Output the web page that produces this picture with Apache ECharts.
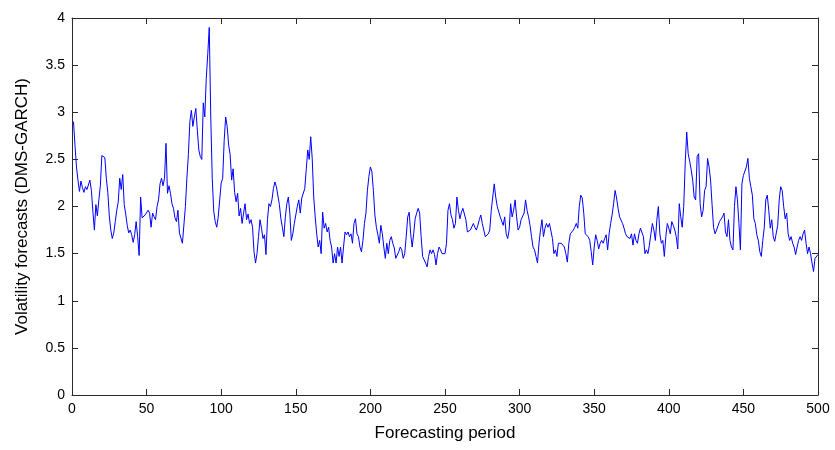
<!DOCTYPE html>
<html>
<head>
<meta charset="utf-8">
<script src="https://cdn.jsdelivr.net/npm/echarts@6/dist/echarts.min.js"></script>
<style>
  html, body { margin: 0; padding: 0; background: #ffffff; }
  #chart { width: 835px; height: 450px; }
</style>
</head>
<body>
<div id="chart"></div>
<script>
// Volatility forecasts from the DMS-GARCH model, one value per forecasting period (1..500)
const volatility = [
  2.90, 2.65, 2.42, 2.28, 2.16, 2.27, 2.20, 2.15, 2.21, 2.18,
  2.20, 2.28, 2.17, 1.95, 1.75, 2.02, 1.90, 2.07, 2.22, 2.54,
  2.54, 2.52, 2.30, 2.15, 1.90, 1.75, 1.66, 1.72, 1.84, 1.96,
  2.05, 2.30, 2.18, 2.34, 2.02, 1.92, 1.80, 1.72, 1.75, 1.70,
  1.62, 1.70, 1.84, 1.68, 1.48, 2.10, 1.88, 1.89, 1.91, 1.93,
  1.96, 1.93, 1.78, 1.93, 1.89, 1.86, 2.00, 2.07, 2.24, 2.30,
  2.22, 2.30, 2.67, 2.14, 2.22, 2.14, 2.03, 1.98, 1.88, 1.84,
  1.96, 1.72, 1.70, 1.61, 1.62, 2.00, 2.30, 2.55, 2.90, 3.02,
  2.85, 2.95, 3.04, 2.81, 2.60, 2.53, 2.50, 3.10, 2.95, 3.36,
  3.62, 3.90, 2.95, 2.30, 1.95, 1.84, 1.78, 1.89, 2.07, 2.25,
  2.30, 2.70, 2.95, 2.85, 2.65, 2.55, 2.28, 2.40, 2.15, 2.05,
  2.14, 1.90, 1.98, 1.82, 1.93, 2.03, 1.86, 1.92, 1.82, 1.86,
  1.78, 1.52, 1.40, 1.50, 1.68, 1.86, 1.77, 1.66, 1.70, 1.49,
  1.86, 2.03, 2.00, 2.07, 2.19, 2.26, 2.21, 2.19, 2.02, 1.87,
  1.78, 1.68, 1.89, 2.03, 2.10, 1.93, 1.64, 1.71, 1.82, 1.91,
  2.00, 2.07, 1.93, 2.09, 2.10, 2.19, 2.39, 2.60, 2.50, 2.74,
  2.51, 2.10, 1.89, 1.71, 1.57, 1.64, 1.50, 1.94, 1.77, 1.82,
  1.73, 1.78, 1.64, 1.57, 1.40, 1.50, 1.40, 1.57, 1.47, 1.57,
  1.40, 1.57, 1.73, 1.70, 1.73, 1.68, 1.71, 1.61, 1.82, 1.87,
  1.71, 1.68, 1.57, 1.52, 1.64, 1.82, 1.93, 2.17, 2.32, 2.42,
  2.37, 2.17, 1.91, 1.78, 1.70, 1.61, 1.80, 1.71, 1.57, 1.45,
  1.61, 1.50, 1.64, 1.68, 1.61, 1.56, 1.45, 1.47, 1.52, 1.57,
  1.54, 1.45, 1.50, 1.68, 1.89, 1.94, 1.71, 1.57, 1.71, 1.87,
  1.93, 1.98, 1.93, 1.68, 1.47, 1.47, 1.40, 1.36, 1.47, 1.54,
  1.50, 1.54, 1.49, 1.38, 1.50, 1.57, 1.54, 1.50, 1.52, 1.50,
  1.61, 1.96, 2.03, 1.91, 1.86, 1.77, 1.82, 2.10, 1.96, 1.87,
  1.94, 1.98, 2.00, 1.86, 1.73, 1.71, 1.75, 1.73, 1.82, 1.78,
  1.75, 1.80, 1.86, 1.91, 1.82, 1.75, 1.68, 1.68, 1.71, 1.75,
  1.96, 2.10, 2.24, 2.10, 2.00, 2.00, 1.89, 1.87, 1.80, 1.89,
  1.71, 1.66, 1.75, 2.03, 1.89, 1.96, 2.07, 1.89, 1.75, 1.78,
  1.86, 1.86, 1.93, 2.07, 1.96, 1.89, 1.80, 1.68, 1.57, 1.54,
  1.47, 1.40, 1.61, 1.75, 1.86, 1.68, 1.77, 1.82, 1.78, 1.82,
  1.80, 1.66, 1.50, 1.54, 1.47, 1.61, 1.63, 1.61, 1.59, 1.57,
  1.50, 1.41, 1.61, 1.71, 1.73, 1.75, 1.78, 1.82, 1.77, 2.00,
  2.12, 2.09, 1.93, 1.71, 1.70, 1.68, 1.64, 1.52, 1.38, 1.57,
  1.70, 1.64, 1.55, 1.61, 1.64, 1.61, 1.66, 1.70, 1.54, 1.71,
  1.82, 1.91, 2.03, 2.17, 2.09, 1.98, 1.89, 1.91, 1.82, 1.77,
  1.71, 1.68, 1.70, 1.66, 1.71, 1.59, 1.71, 1.64, 1.61, 1.71,
  1.77, 1.78, 1.68, 1.50, 1.54, 1.50, 1.59, 1.71, 1.82, 1.75,
  1.64, 1.86, 2.00, 1.71, 1.61, 1.64, 1.47, 1.68, 1.82, 1.77,
  1.71, 1.84, 1.80, 1.75, 1.68, 1.55, 2.03, 1.89, 1.78, 2.00,
  2.46, 2.79, 2.56, 2.48, 2.39, 2.28, 2.10, 2.07, 2.53, 2.56,
  2.03, 1.89, 1.96, 2.17, 2.21, 2.51, 2.42, 2.28, 2.02, 1.78,
  1.71, 1.75, 1.77, 1.84, 1.82, 1.89, 1.93, 1.73, 1.68, 1.86,
  1.64, 1.57, 1.54, 2.00, 2.21, 2.07, 1.82, 1.54, 2.24, 2.33,
  2.33, 2.42, 2.51, 2.30, 2.21, 2.12, 1.87, 1.82, 1.70, 1.64,
  1.52, 1.47, 1.64, 1.78, 2.07, 2.12, 1.96, 1.77, 1.86, 1.68,
  1.63, 1.61, 1.80, 2.07, 2.21, 2.17, 2.00, 1.87, 1.93, 1.71,
  1.64, 1.68, 1.61, 1.57, 1.49, 1.57, 1.64, 1.68, 1.64, 1.71,
  1.75, 1.61, 1.50, 1.57, 1.50, 1.40, 1.31, 1.45, 1.43, 1.49
];
const firstPeriod = 1;

// Axis ranges and tick spacing
const xRange = [0, 500];
const xStep = 50;
const yRange = [0, 4];
const yStep = 0.5;

const xTitle = 'Forecasting period';
const yTitle = 'Volatility forecasts (DMS-GARCH)';

const points = volatility.map((v, i) => [firstPeriod + i, v]);

const frameColor = '#2b2b2b';
const font = 'Liberation Sans, Arial, sans-serif';

// Boxed frame: every side carries an axis line with inward ticks
function boxAxis(extra) {
  return Object.assign({
    axisLine: { show: true, onZero: false, lineStyle: { color: frameColor, width: 1 } },
    axisTick: { show: true, inside: true, length: 6, lineStyle: { color: frameColor } },
    splitLine: { show: false },
    axisLabel: { show: false }
  }, extra);
}

const chart = echarts.init(document.getElementById('chart'), null, { renderer: 'canvas' });
chart.setOption({
  animation: false,
  backgroundColor: '#ffffff',
  grid: { left: 72, right: 17, top: 18, bottom: 55, containLabel: false },
  xAxis: [
    boxAxis({
      type: 'value', position: 'bottom', min: xRange[0], max: xRange[1], interval: xStep,
      axisLabel: { show: true, color: '#000', fontFamily: font, fontSize: 14, margin: 7 },
      name: xTitle, nameLocation: 'middle', nameGap: 30,
      nameTextStyle: { color: '#000', fontFamily: font, fontSize: 17 }
    }),
    boxAxis({ type: 'value', position: 'top', min: xRange[0], max: xRange[1], interval: xStep })
  ],
  yAxis: [
    boxAxis({
      type: 'value', position: 'left', min: yRange[0], max: yRange[1], interval: yStep,
      axisLabel: { show: true, color: '#000', fontFamily: font, fontSize: 14, margin: 7 },
      name: yTitle, nameLocation: 'middle', nameGap: 41,
      nameTextStyle: { color: '#000', fontFamily: font, fontSize: 17 }
    }),
    boxAxis({ type: 'value', position: 'right', min: yRange[0], max: yRange[1], interval: yStep })
  ],
  series: [{
    type: 'line',
    xAxisIndex: 0,
    yAxisIndex: 0,
    data: points,
    showSymbol: false,
    lineStyle: { color: '#0000ff', width: 1 },
    silent: true
  }]
});
</script>
</body>
</html>
